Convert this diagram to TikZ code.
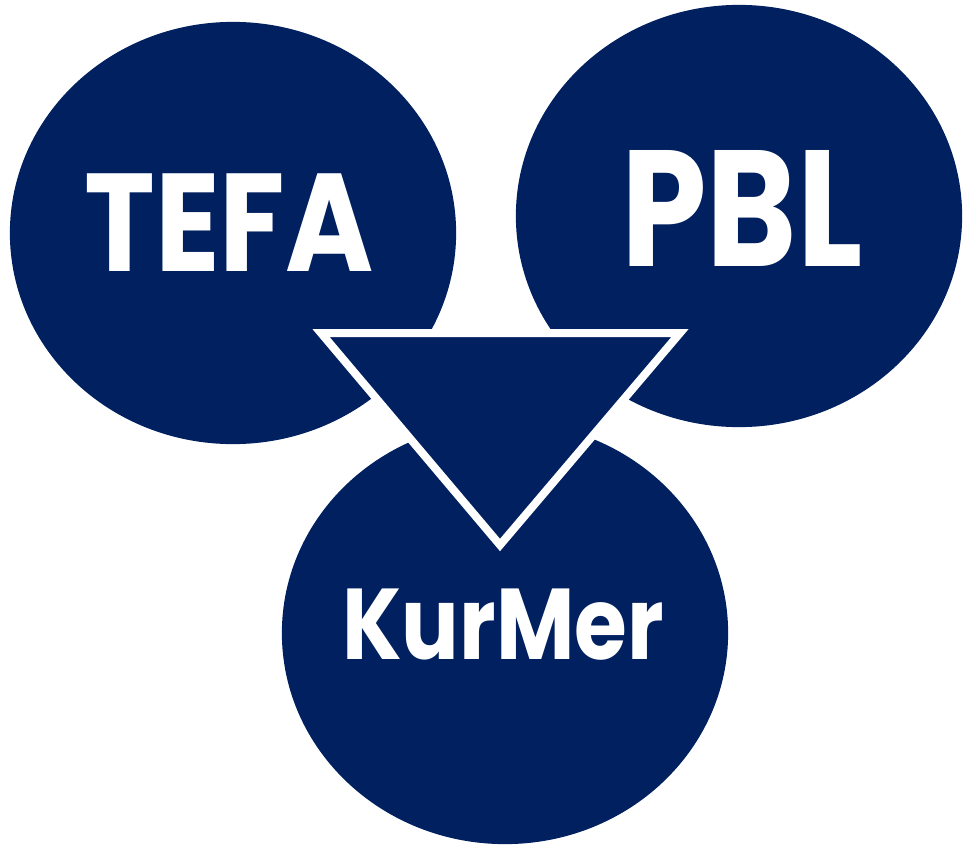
\documentclass[tikz,border=0pt]{standalone}
\usepackage{fontspec}
\setmainfont{Poppins}
\usepackage{tikz}
\usetikzlibrary{shapes.geometric}
\usetikzlibrary{positioning}

\definecolor{navy}{RGB}{0,32,96}
\newcommand{\narrow}[2]{\scalebox{#1}[1]{#2}}

\begin{document}
\begin{tikzpicture}
		[x=0.01cm, y=-0.01cm,
		 blob/.style = {ellipse, fill=navy, inner sep=0pt, minimum width=4.46cm, minimum height=4.22cm},
		 word/.style = {text=white, inner sep=0pt}]
        \useasboundingbox (0,0) rectangle (966,848);

        \node[blob] (tefa) at (233,233) {};
        \node[blob] (pbl) at (739,216) {};
        \node[blob] (kurmer) at (505,633) {};

        % the arrow in the middle
        \draw[fill=navy, draw=white, line width=0.08cm, line join=miter] (321,333) -- (680,333) -- (500,545) -- cycle;

        \node[word, font=\fontsize{39.6}{40}\selectfont\bfseries] (t1) at (229,223) {\narrow{0.86}{TEFA}};
        \node[word, font=\fontsize{47}{48}\selectfont\bfseries] (t2) at (742,208) {\narrow{0.83}{PBL}};
        \node[word, font=\fontsize{28.6}{30}\selectfont\bfseries] (t3) at (503,625) {\narrow{0.85}{KurMer}};
	\end{tikzpicture}
\end{document}
